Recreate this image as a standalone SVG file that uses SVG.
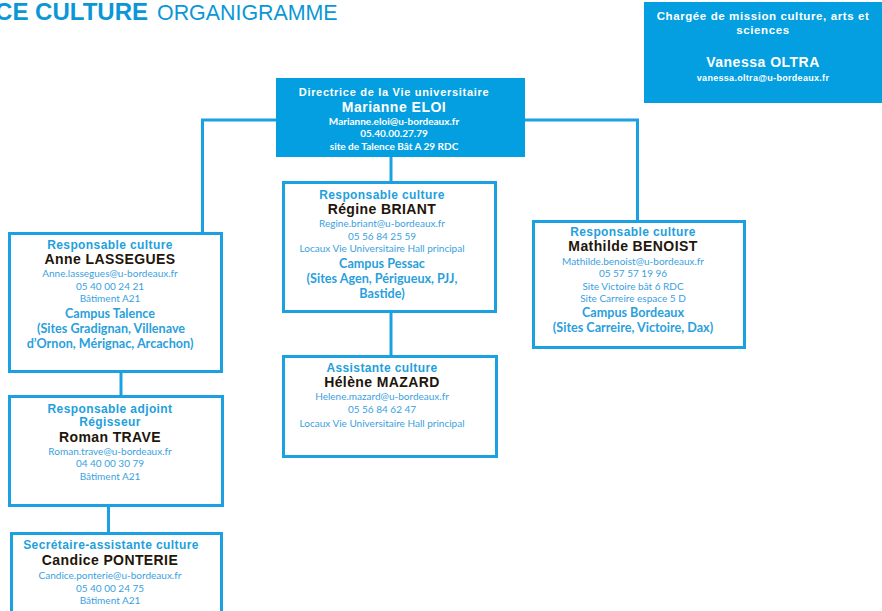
<svg xmlns="http://www.w3.org/2000/svg" width="882" height="611" viewBox="0 0 882 611">
<style>
.box{fill:#fff;stroke:#1ba0e1;stroke-width:3}
.fbox{fill:#049fe0}
.conn{fill:none;stroke:#1ba0e1;stroke-width:3}
text{text-anchor:middle}
.role{font-family:"Liberation Sans",Arial,sans-serif;font-weight:bold;font-size:12px;letter-spacing:0.4px;fill:#239fdd}
.name{font-family:"Liberation Sans",Arial,sans-serif;font-weight:bold;font-size:14px;letter-spacing:0.4px;fill:#22150a}
.info{font-family:Lato,"Open Sans",sans-serif;font-size:10px;fill:#3a9fe0}
.campus{font-family:Lato,"Open Sans",sans-serif;font-weight:bold;font-size:12.6px;fill:#2a9fdc}
.wrole{font-family:"Liberation Sans",Arial,sans-serif;font-weight:bold;font-size:11px;letter-spacing:0.7px;fill:#fff}
.wname{font-family:"Liberation Sans",Arial,sans-serif;font-weight:bold;font-size:14px;letter-spacing:0.5px;fill:#fff}
.winfo{font-family:Lato,"Open Sans",sans-serif;font-weight:bold;font-size:10px;fill:#fff}
.title{font-family:"Liberation Sans",Arial,sans-serif;fill:#0b97d7}
</style>
<rect width="882" height="611" fill="#fff"/>
<g id="title">
<text class="title" x="148" y="20" font-size="24" font-weight="bold" style="text-anchor:end">CE CULTURE</text>
<text class="title" x="157" y="20" font-size="21.4" style="text-anchor:start">ORGANIGRAMME</text>
</g>
<g id="connectors">
<path class="conn" d="M277,120 H202.5 V233"/>
<path class="conn" d="M524,120 H637.5 V221"/>
<path class="conn" d="M391,156 V182"/>
<path class="conn" d="M121,372 V396"/>
<path class="conn" d="M108.5,506 V533"/>
<path class="conn" d="M391,312 V356"/>
</g>
<g id="mission">
<rect class="fbox" x="644" y="2" width="240" height="101"/>
<text class="wrole" x="763" y="20" style="font-size:11.5px;letter-spacing:0.6px">Chargée de mission culture, arts et</text>
<text class="wrole" x="763" y="34" style="font-size:11.5px;letter-spacing:0.6px">sciences</text>
<text class="wname" x="763" y="67">Vanessa OLTRA</text>
<text class="wrole" x="763" y="81" style="font-size:9px;letter-spacing:0.3px">vanessa.oltra@u-bordeaux.fr</text>
</g>
<g id="directrice">
<rect class="fbox" x="276" y="78" width="249" height="79"/>
<text class="wrole" x="394" y="96">Directrice de la Vie universitaire</text>
<text class="wname" x="394" y="112">Marianne ELOI</text>
<text class="winfo" x="394" y="125">Marianne.eloi@u-bordeaux.fr</text>
<text class="winfo" x="394" y="137">05.40.00.27.79</text>
<text class="winfo" x="394" y="150">site  de Talence Bât A 29 RDC</text>
</g>
<g id="lassegues">
<rect class="box" x="9.5" y="233.5" width="212" height="138"/>
<text class="role" x="110" y="249">Responsable culture</text>
<text class="name" x="110" y="264">Anne LASSEGUES</text>
<text class="info" x="110" y="277">Anne.lassegues@u-bordeaux.fr</text>
<text class="info" x="110" y="290">05 40 00 24 21</text>
<text class="info" x="110" y="302">Bâtiment A21</text>
<text class="campus" x="110" y="318">Campus Talence</text>
<text class="campus" x="111" y="333">(Sites Gradignan, Villenave</text>
<text class="campus" x="110" y="348">d’Ornon, Mérignac, Arcachon)</text>
</g>
<g id="trave">
<rect class="box" x="9.5" y="396.5" width="213" height="109"/>
<text class="role" x="110" y="413">Responsable adjoint</text>
<text class="role" x="110" y="426">Régisseur</text>
<text class="name" x="110" y="442">Roman TRAVE</text>
<text class="info" x="110" y="455">Roman.trave@u-bordeaux.fr</text>
<text class="info" x="110" y="467">04 40 00 30 79</text>
<text class="info" x="110" y="480">Bâtiment A21</text>
</g>
<g id="ponterie">
<rect class="box" x="11.5" y="533.5" width="210" height="100"/>
<text class="role" x="111" y="549">Secrétaire-assistante culture</text>
<text class="name" x="110" y="565">Candice PONTERIE</text>
<text class="info" x="110" y="579">Candice.ponterie@u-bordeaux.fr</text>
<text class="info" x="110" y="592">05 40 00 24 75</text>
<text class="info" x="110" y="604">Bâtiment A21</text>
</g>
<g id="briant">
<rect class="box" x="283.5" y="182.5" width="212" height="129"/>
<text class="role" x="382" y="199">Responsable culture</text>
<text class="name" x="382" y="214">Régine BRIANT</text>
<text class="info" x="382" y="227">Regine.briant@u-bordeaux.fr</text>
<text class="info" x="382" y="240">05 56 84 25 59</text>
<text class="info" x="382" y="252">Locaux Vie Universitaire Hall principal</text>
<text class="campus" x="382" y="268">Campus Pessac</text>
<text class="campus" x="382" y="283">(Sites Agen, Périgueux, PJJ,</text>
<text class="campus" x="382" y="298">Bastide)</text>
</g>
<g id="mazard">
<rect class="box" x="283.5" y="356.5" width="213" height="100"/>
<text class="role" x="382" y="372">Assistante culture</text>
<text class="name" x="382" y="387">Hélène MAZARD</text>
<text class="info" x="382" y="400">Helene.mazard@u-bordeaux.fr</text>
<text class="info" x="382" y="413">05 56 84 62 47</text>
<text class="info" x="382" y="427">Locaux Vie Universitaire Hall principal</text>
</g>
<g id="benoist">
<rect class="box" x="533.5" y="221.5" width="211" height="126"/>
<text class="role" x="633" y="236">Responsable culture</text>
<text class="name" x="633" y="251">Mathilde BENOIST</text>
<text class="info" x="633" y="265">Mathilde.benoist@u-bordeaux.fr</text>
<text class="info" x="633" y="277">05 57 57 19 96</text>
<text class="info" x="633" y="290">Site Victoire bât 6 RDC</text>
<text class="info" x="633" y="302">Site Carreire espace 5 D</text>
<text class="campus" x="633" y="317">Campus Bordeaux</text>
<text class="campus" x="633" y="332">(Sites Carreire, Victoire, Dax)</text>
</g>
</svg>
